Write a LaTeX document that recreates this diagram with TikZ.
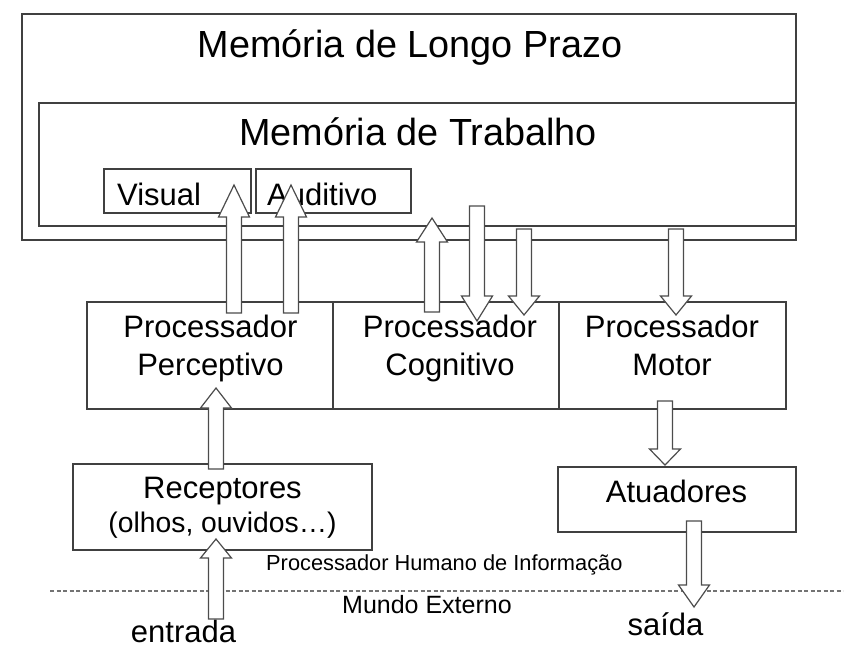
\documentclass[tikz,border=0pt]{standalone}
\usepackage{fontspec}
\setmainfont{Liberation Sans}
\usetikzlibrary{calc,positioning}
\tikzset{%
  % Specifications for style of boxes, labels and arrows:
         box/.style = {rectangle, draw=black!75, line width=1.4pt,
                       inner sep=0pt, outer sep=0pt, anchor=north west},
      bigtxt/.style = {inner sep=0pt, font=\fontsize{37.8}{41}\selectfont},
     proctxt/.style = {inner sep=0pt, align=center,
                       font=\fontsize{31}{38}\selectfont},
    smalltxt/.style = {inner sep=0pt, font=\fontsize{21.8}{26}\selectfont},
    fatarrow/.style = {draw=black!70, line width=1.2pt, fill=white,
                       line join=miter},
     divider/.style = {draw=black!55, line width=1.1pt,
                       dash pattern=on 4pt off 2.5pt}
}
% hollow block arrow: [head length]{tail}{tip}
\newcommand{\blockarrow}[3][24]{%
  \draw[fatarrow] let \p1=(#2), \p2=(#3), \p3=($(#3)!#1pt!(#2)$) in
    (\x1-7.5pt,\y1) -- (\x1-7.5pt,\y3) -- (\x1-15.5pt,\y3) -- (\x2,\y2)
    -- (\x1+15.5pt,\y3) -- (\x1+7.5pt,\y3) -- (\x1+7.5pt,\y1) -- cycle;}

\begin{document}
\begin{tikzpicture}[x=1pt, y=-1pt]
  \useasboundingbox (0,0) rectangle (862,657);
  % Specification of boxes (position, size)
  \node (ltm)    [box, minimum width=774pt, minimum height=226pt] at (22,14) {};
  \node (wm)     [box, minimum width=757pt, minimum height=123pt] at (39,103) {};
  \node (vis)    [box, minimum width=147pt, minimum height=44pt] at (104,169) {};
  \node (aud)    [box, minimum width=155pt, minimum height=44pt] at (256,169) {};
  \node (percep) [box, minimum width=246pt, minimum height=107pt] at (87,302) {};
  \node (cogn)   [box, minimum width=226pt, minimum height=107pt, right=0pt of percep] {};
  \node (motor)  [box, minimum width=227pt, minimum height=107pt, right=0pt of cogn] {};
  \node (recep)  [box, minimum width=299pt, minimum height=86pt] at (73,464) {};
  \node (atuad)  [box, minimum width=238pt, minimum height=65pt] at (558,467) {};

  % Texts
  \node (ltm-t)    [bigtxt, anchor=base] at (410,57) {Memória de Longo Prazo};
  \node (wm-t)     [bigtxt, anchor=base] at (418,145) {Memória de Trabalho};
  \node (vis-t)    [proctxt, anchor=base west] at (117,205) {Visual};
  \node (aud-t)    [proctxt, anchor=base west] at (267,205) {Auditivo};
  \node (percep-t) [proctxt, anchor=north] at (210.5,315) {Processador\\Perceptivo};
  \node (cogn-t)   [proctxt, anchor=north] at (450,315) {Processador\\Cognitivo};
  \node (motor-t)  [proctxt, anchor=north] at (672,315) {Processador\\Motor};
  \node (recep-t)  [proctxt, anchor=north] at (222.5,477)
        {Receptores\\[-4pt]{\fontsize{28.3}{34}\selectfont(olhos, ouvidos…)}};
  \node (atuad-t)  [proctxt, anchor=base] at (676.5,502) {Atuadores};
  \node (phi-t)    [smalltxt, anchor=base west] at (266,570) {Processador Humano de Informação};
  \node (world-t)  [smalltxt, anchor=base west, font=\fontsize{25}{29}\selectfont] at (342,613) {Mundo Externo};
  \node (in-t)     [proctxt, anchor=base] at (183.5,642) {entrada};
  \node (out-t)    [proctxt, anchor=base] at (665.5,635) {saída};

  % border between the human and the outside world
  \coordinate (dl) at (50,591);
  \coordinate (dr) at (843,591);
  \draw[divider] (dl) -- (dr);

  % arrow ends
  \coordinate (p2vis-a) at (234,313);  \coordinate (p2vis-b) at (234,185);
  \coordinate (p2aud-a) at (291,313);  \coordinate (p2aud-b) at (291,185);
  \coordinate (c2wm-a)  at (432,312);  \coordinate (c2wm-b)  at (432,218);
  \coordinate (wm2c-a)  at (477,206);  \coordinate (wm2c-b)  at (477,321);
  \coordinate (ltm2c-a) at (524,229);  \coordinate (ltm2c-b) at (524,315);
  \coordinate (ltm2m-a) at (676,229);  \coordinate (ltm2m-b) at (676,315);
  \coordinate (r2p-a)   at (216,469);  \coordinate (r2p-b)   at (216,388);
  \coordinate (in2r-a)  at (216,619);  \coordinate (in2r-b)  at (216,539);
  \coordinate (m2at-a)  at (665,401);  \coordinate (m2at-b)  at (665,465);
  \coordinate (at2o-a)  at (694,521);  \coordinate (at2o-b)  at (694,607);

  \blockarrow[32]{p2vis-a}{p2vis-b}
  \blockarrow[32]{p2aud-a}{p2aud-b}
  \blockarrow[24]{c2wm-a}{c2wm-b}
  \blockarrow[25]{wm2c-a}{wm2c-b}
  \blockarrow[19]{ltm2c-a}{ltm2c-b}
  \blockarrow[19]{ltm2m-a}{ltm2m-b}
  \blockarrow[20]{r2p-a}{r2p-b}
  \blockarrow[19]{in2r-a}{in2r-b}
  \blockarrow[16]{m2at-a}{m2at-b}
  \blockarrow[22]{at2o-a}{at2o-b}
\end{tikzpicture}
\end{document}
